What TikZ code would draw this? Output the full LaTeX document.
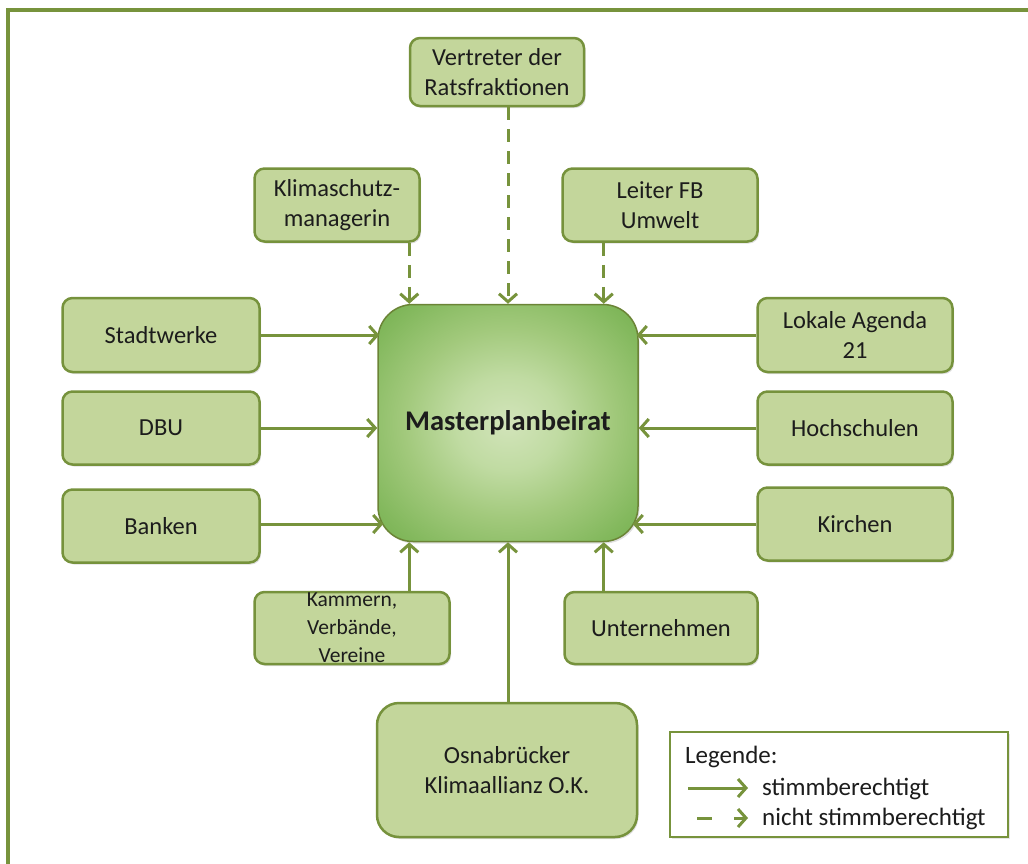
\documentclass[tikz,border=0pt]{standalone}
\usepackage{fontspec}
\setmainfont{Carlito}
\usetikzlibrary{arrows.meta,calc,shadows}
\definecolor{olv}{HTML}{77933C}
\definecolor{olvdark}{HTML}{76923C}
\definecolor{boxfill}{HTML}{C3D69B}
\definecolor{txt}{HTML}{1C1C1C}
\pgfdeclareradialshading{mpbshade}{\pgfpoint{0bp}{0bp}}{%
  color(0bp)=(rgb,255:red,210;green,228;blue,186);
  color(10bp)=(rgb,255:red,192;green,219;blue,162);
  color(20bp)=(rgb,255:red,162;green,201;blue,124);
  color(30bp)=(rgb,255:red,132;green,185;blue,94);
  color(40bp)=(rgb,255:red,106;green,169;blue,68);
  color(50bp)=(rgb,255:red,88;green,155;blue,52);
  color(72bp)=(rgb,255:red,70;green,140;blue,38)}
\begin{document}
\begin{tikzpicture}[x=1pt,y=-1pt,
  box/.style={draw=olvdark, line width=2.5pt, fill=boxfill, rounded corners=10pt,
    align=center, font=\fontsize{24.5}{30}\selectfont, text=txt, inner sep=0pt,
    drop shadow={opacity=0.25, shadow xshift=1.5pt, shadow yshift=-2pt}},
  conn/.style={draw=olv, line width=3pt, -{Straight Barb[length=8pt,width=18pt]}},
  dconn/.style={conn, dash pattern=on 13pt off 9pt},
  lgtext/.style={anchor=base west, font=\fontsize{25}{28}\selectfont, text=txt, inner sep=0pt}]
\useasboundingbox (0,0) rectangle (1028,863);
\clip (0,0) rectangle (1028,863);
% frame
\draw[draw=olv, line width=4pt] (8,10) rectangle (1080,920);

% nodes
\node[box, minimum width=174, minimum height=68] (vert) at (497,72) {Vertreter der\\Ratsfraktionen};
\node[box, minimum width=165, minimum height=73] (klima) at (337,205) {Klimaschutz-\\managerin};
\node[box, minimum width=195, minimum height=73] (leiter) at (660,205) {Leiter FB\\Umwelt};

\node[draw=olv!90!black, line width=1.5pt, rounded corners=35pt, minimum width=260, minimum height=237,
  shading=mpbshade, font=\fontsize{28.5}{32}\selectfont\bfseries, text=txt,
  drop shadow={opacity=0.25, shadow xshift=1.5pt, shadow yshift=-2pt}] (mpb) at (508,423) {Masterplanbeirat};

\node[box, minimum width=197, minimum height=74] (stadt) at (161,335) {Stadtwerke};
\node[box, minimum width=197, minimum height=73] (dbu) at (161,428) {DBU};
\node[box, minimum width=197, minimum height=73] (banken) at (161,526) {Banken};

\node[box, minimum width=195, minimum height=74] (lokale) at (855,335) {Lokale Agenda\\21};
\node[box, minimum width=195, minimum height=73] (hoch) at (855,428) {Hochschulen};
\node[box, minimum width=195, minimum height=73] (kirchen) at (855,524) {Kirchen};

\node[box, minimum width=195, minimum height=72, font=\fontsize{21.5}{28}\selectfont] (kammern) at (352,628) {Kammern,\\Verbände,\\Vereine};
\node[box, minimum width=193, minimum height=72] (untern) at (661,628) {Unternehmen};
\node[box, minimum width=260, minimum height=134, rounded corners=22pt] (osna) at (507,770) {Osnabrücker\\Klimaallianz O.K.};

% top dashed connectors
\draw[dconn] (vert.south -| mpb.north) -- (mpb.north);
\coordinate (mk) at ($(mpb.north west)+(32,0)$);
\coordinate (ml) at ($(mpb.north east)+(-35,0)$);
\draw[dconn] (klima.south -| mk) -- (mk);
\draw[dconn] (leiter.south -| ml) -- (ml);

% left connectors
\draw[conn] (stadt.east) -- ($(stadt.east -| mpb.west)+(2,0)$);
\draw[conn] (dbu.east) -- (dbu.east -| mpb.west);
\coordinate (bl) at ($(mpb.west)+(6,101)$);
\draw[conn] (banken.east |- bl) -- (bl);

% right connectors
\draw[conn] (lokale.west) -- ($(lokale.west -| mpb.east)+(-2,0)$);
\draw[conn] (hoch.west) -- (hoch.west -| mpb.east);
\coordinate (br) at ($(mpb.east)+(-6,101)$);
\draw[conn] (kirchen.west |- br) -- (br);

% bottom connectors
\coordinate (mbk) at ($(mpb.south west)+(32,0)$);
\coordinate (mbu) at ($(mpb.south east)+(-35,0)$);
\draw[conn] (kammern.north -| mbk) -- (mbk);
\draw[conn] (osna.north -| mpb.south) -- (mpb.south);
\draw[conn] (untern.north -| mbu) -- (mbu);

% legend
\node[draw=olv, line width=2pt, fill=white, minimum width=338, minimum height=105, inner sep=0pt,
  drop shadow={opacity=0.2, shadow xshift=1.5pt, shadow yshift=-2pt}] (legend) at (839,784.5) {};
\node[lgtext] (lg) at (685,763) {Legende:};
\coordinate (la1) at (688,788);
\coordinate (la2) at (748,788);
\draw[conn] (la1) -- (la2);
\node[lgtext] (ls) at (762,795) {stimmberechtigt};
\coordinate (lb1) at (697,818);
\coordinate (lb2) at (712,818);
\coordinate (lb3) at (734,818);
\coordinate (lb4) at (748,818);
\draw[draw=olv, line width=3pt] (lb1) -- (lb2);
\draw[conn] (lb3) -- (lb4);
\node[lgtext] (ln) at (762,825) {nicht stimmberechtigt};
\end{tikzpicture}
\end{document}
